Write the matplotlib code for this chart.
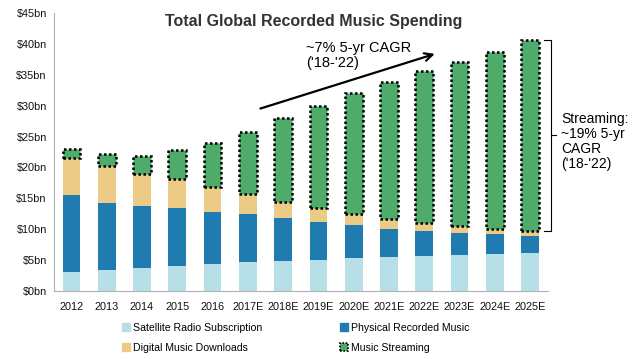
import numpy as np
import matplotlib.pyplot as plt
from matplotlib.patches import Patch

plt.rcParams['font.family'] = ['Liberation Sans', 'DejaVu Sans']

years = ['2012', '2013', '2014', '2015', '2016', '2017E', '2018E', '2019E',
         '2020E', '2021E', '2022E', '2023E', '2024E', '2025E']
# cumulative tops ($bn)
sat_top = [3.1, 3.5, 3.7, 4.0, 4.4, 4.7, 4.9, 5.1, 5.3, 5.5, 5.7, 5.8, 6.0, 6.1]
phys_top = [15.5, 14.3, 13.7, 13.5, 12.8, 12.5, 11.8, 11.2, 10.7, 10.1, 9.8, 9.4, 9.2, 9.0]
dig_top = [21.5, 20.3, 19.0, 18.2, 16.9, 15.7, 14.4, 13.4, 12.5, 11.6, 11.0, 10.6, 10.1, 9.8]
total = [23.0, 22.2, 21.8, 22.8, 24.0, 25.8, 28.0, 30.0, 32.0, 33.8, 35.6, 37.1, 38.7, 40.7]

satellite = np.array(sat_top)
physical = np.array(phys_top) - np.array(sat_top)
digital = np.array(dig_top) - np.array(phys_top)
streaming = np.array(total) - np.array(dig_top)

c_sat = '#b7dfe8'
c_phys = '#1f7bb0'
c_dig = '#ebcb86'
c_str = '#4eab6a'

fig = plt.figure(figsize=(6.4, 3.59), dpi=100)
ax = fig.add_axes([0.084, 0.189, 0.772, 0.775])

x = np.arange(len(years))
w = 0.5
ax.bar(x, satellite, w, color=c_sat)
ax.bar(x, physical, w, bottom=satellite, color=c_phys)
ax.bar(x, digital, w, bottom=satellite + physical, color=c_dig)
ax.bar(x, streaming, w, bottom=satellite + physical + digital, color=c_str,
       edgecolor='black', linestyle=(0, (1, 1)), linewidth=1.8)

ax.set_xlim(-0.5, 13.5)
ax.set_ylim(0, 45)
ax.set_yticks(np.arange(0, 46, 5))
ax.set_yticklabels(['$%dbn' % v for v in range(0, 46, 5)])
ax.set_xticks(x)
ax.set_xticklabels(years)
ax.tick_params(length=0, labelsize=7.8, colors='#111111', pad=5)
ax.tick_params(axis='x', pad=8)
for s in ['top', 'right']:
    ax.spines[s].set_visible(False)
ax.spines['left'].set_color('#b0b0b0')
ax.spines['bottom'].set_color('#b0b0b0')

fig.text(0.49, 0.94, 'Total Global Recorded Music Spending', ha='center',
         va='center', fontsize=11.5, fontweight='bold', color='#333333')

# growth arrow
ax.annotate('', xy=(10.37, 38.5), xytext=(5.28, 29.4),
            arrowprops=dict(arrowstyle='->', color='black', lw=1.6,
                            mutation_scale=14))
ax.text(6.65, 40.4, "~7% 5-yr CAGR\n('18-'22)", fontsize=10.5, va='top',
        ha='left', linespacing=1.1)

# bracket for streaming
bx = 13.58
top, bot = total[-1], dig_top[-1]
mid = (top + bot) / 2
ax.plot([bx - 0.2, bx, bx, bx - 0.2], [top, top, bot, bot], color='black',
        lw=0.8, clip_on=False)
ax.plot([bx, bx + 0.15], [mid, mid], color='black', lw=0.8, clip_on=False)
ax.text(bx + 0.3, mid + 3.8, "Streaming:\n~19% 5-yr\nCAGR\n('18-'22)",
        fontsize=10, va='top', ha='left', linespacing=1.12)

handles = [Patch(color=c_sat, label='Satellite Radio Subscription'),
           Patch(color=c_dig, label='Digital Music Downloads'),
           Patch(color=c_phys, label='Physical Recorded Music'),
           Patch(facecolor=c_str, edgecolor='black', linestyle=(0, (1, 1)),
                 linewidth=1.2, label='Music Streaming')]
fig.legend(handles=handles, ncol=2, loc='center', bbox_to_anchor=(0.462, 0.059),
           frameon=False, fontsize=7.6, handlelength=0.7, handleheight=0.7,
           handletextpad=0.3, columnspacing=7.4, labelspacing=0.95)

fig.savefig('out.png', dpi=100)
